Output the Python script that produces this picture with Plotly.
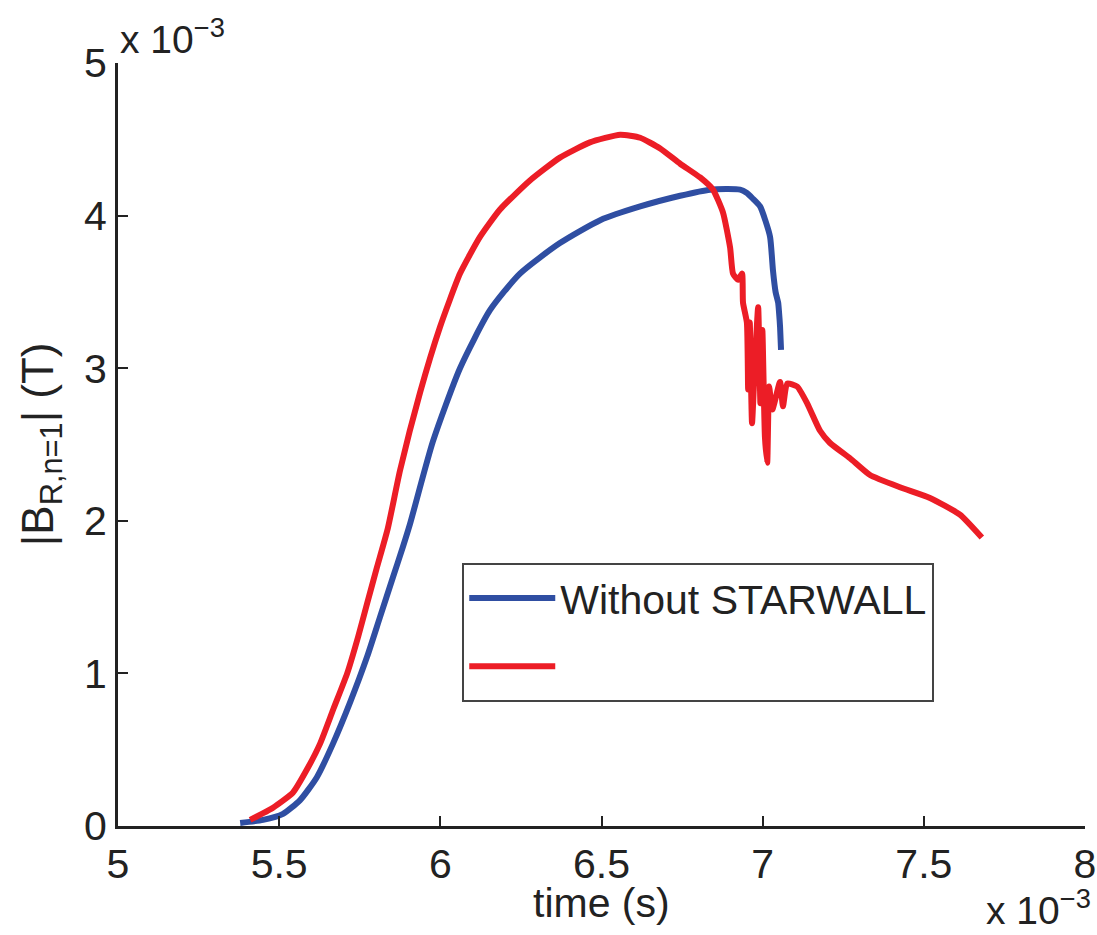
import plotly.graph_objects as go

# Data (time in units of 1e-3 s, field in units of 1e-3 T)
blue_t = [5.379, 5.45, 5.512, 5.565, 5.617, 5.667, 5.72, 5.773, 5.813, 5.853, 5.884, 5.906,
          5.977, 6.061, 6.154, 6.247, 6.371, 6.496, 6.62, 6.744, 6.837, 6.93, 6.95, 6.97,
          6.992, 7.008, 7.023, 7.032, 7.04, 7.048, 7.051, 7.054, 7.057]
blue_b = [0.02, 0.04, 0.08, 0.17, 0.32, 0.54, 0.81, 1.11, 1.37, 1.63, 1.83, 1.98,
          2.52, 3.00, 3.38, 3.62, 3.82, 3.97, 4.06, 4.13, 4.17, 4.17, 4.15, 4.11,
          4.06, 3.97, 3.86, 3.64, 3.50, 3.43, 3.36, 3.27, 3.12]

red_t = [5.41, 5.481, 5.543, 5.586, 5.627, 5.667, 5.711, 5.745, 5.773, 5.804, 5.837, 5.875,
         5.937, 5.999, 6.061, 6.123, 6.185, 6.278, 6.371, 6.464, 6.558, 6.62, 6.682, 6.744,
         6.806, 6.846, 6.877, 6.899, 6.908, 6.924, 6.936, 6.939, 6.951, 6.955, 6.96, 6.967,
         6.975, 6.986, 6.993, 6.999, 7.007, 7.014, 7.02, 7.03, 7.054, 7.063, 7.076, 7.107,
         7.138, 7.178, 7.209, 7.271, 7.333, 7.426, 7.519, 7.612, 7.68]
red_b = [0.04, 0.12, 0.22, 0.37, 0.54, 0.76, 1.00, 1.24, 1.46, 1.70, 1.95, 2.33,
         2.84, 3.27, 3.62, 3.86, 4.04, 4.23, 4.38, 4.48, 4.53, 4.51, 4.44, 4.34,
         4.25, 4.17, 4.02, 3.79, 3.62, 3.58, 3.62, 3.43, 3.30, 2.86, 3.30, 2.64,
         2.99, 3.40, 2.77, 3.25, 2.55, 2.38, 2.88, 2.73, 2.91, 2.75, 2.90, 2.88,
         2.77, 2.59, 2.51, 2.41, 2.30, 2.22, 2.15, 2.04, 1.89]

legend_names = ["Without STARWALL", ""]
x_ticks = [5, 5.5, 6, 6.5, 7, 7.5, 8]
y_ticks = [0, 1, 2, 3, 4, 5]

FONT = "Liberation Sans, Arial, sans-serif"
BLUE = "#2F4EA2"
RED = "#EC1D26"
TXT = "#222222"
FS = 41

fig = go.Figure()
fig.add_trace(go.Scatter(x=blue_t, y=blue_b, mode="lines", name=legend_names[0],
                         legendgroup="a",
                         line=dict(color=BLUE, width=6, shape="spline", smoothing=0.6)))
fig.add_trace(go.Scatter(x=red_t, y=red_b, mode="lines", name=legend_names[1],
                         legendgroup="b",
                         line=dict(color=RED, width=6, shape="spline", smoothing=0.5)))

axis_common = dict(showgrid=False, zeroline=False, showline=True, linecolor=TXT,
                   linewidth=3, ticks="inside", ticklen=10, tickwidth=2, tickcolor=TXT,
                   tickfont=dict(family=FONT, size=FS, color=TXT), mirror=False,
                   automargin=False)

fig.update_layout(
    width=1097, height=935,
    margin=dict(l=118, r=12, t=63, b=109),
    paper_bgcolor="white", plot_bgcolor="white",
    font=dict(family=FONT, color=TXT),
    xaxis=dict(range=[5, 8], tickvals=x_ticks, ticktext=[f"{v:g}" for v in x_ticks],
               ticklabelstandoff=0, **axis_common),
    yaxis=dict(range=[0, 5], tickvals=y_ticks, ticktext=[f"{v:g}" for v in y_ticks],
               ticklabelstandoff=0, **axis_common),
    showlegend=True,
    legend=dict(x=0.356, y=0.345, xanchor="left", yanchor="top",
                bordercolor="#444444", borderwidth=2, bgcolor="white",
                font=dict(family=FONT, size=FS, color=TXT),
                tracegroupgap=12, traceorder="grouped", itemwidth=86),
)

fig.add_annotation(text="time (s)", xref="paper", yref="paper", x=0.5, y=-0.101,
                   showarrow=False, font=dict(family=FONT, size=FS, color=TXT),
                   xanchor="center", yanchor="middle")
fig.add_annotation(text="|B<sub>R,n=1</sub>| (T)", xref="paper", yref="paper",
                   x=-0.08, y=0.5, textangle=-90, showarrow=False,
                   font=dict(family=FONT, size=44, color=TXT),
                   xanchor="center", yanchor="middle")
fig.add_annotation(text="x 10<sup>\u22123</sup>", xref="paper", yref="paper",
                   x=0.0, y=1.0, yshift=0, showarrow=False,
                   font=dict(family=FONT, size=FS - 2, color=TXT),
                   xanchor="left", yanchor="bottom")
fig.add_annotation(text="x 10<sup>\u22123</sup>", xref="paper", yref="paper",
                   x=1.0, y=-0.136, xshift=8, yshift=-4, showarrow=False,
                   font=dict(family=FONT, size=FS - 2, color=TXT),
                   xanchor="right", yanchor="bottom")

fig.write_html("out.html")
